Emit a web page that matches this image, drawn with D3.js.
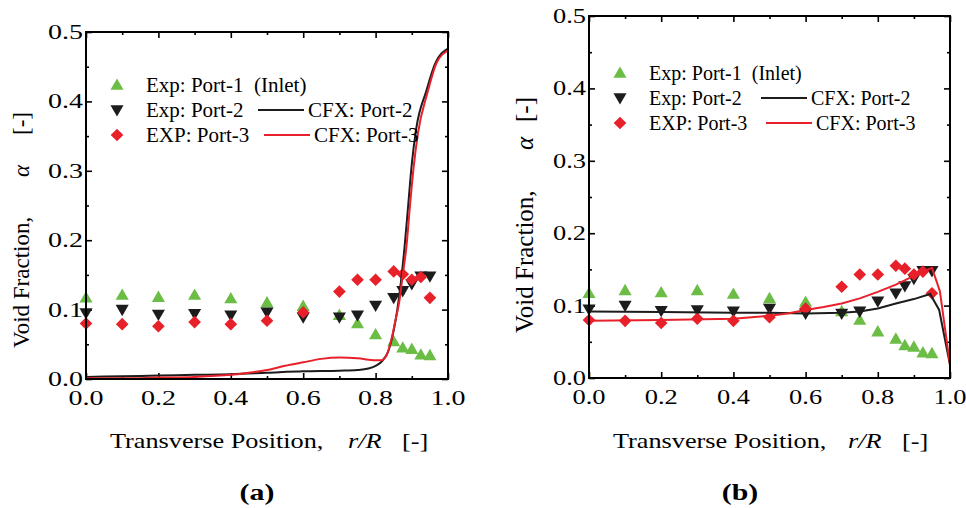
<!DOCTYPE html>
<html>
<head>
<meta charset="utf-8">
<script src="https://cdn.jsdelivr.net/npm/d3@7/dist/d3.min.js"></script>
<style>
  body { margin: 0; background: #fff; }
</style>
</head>
<body>
<svg id="chart" width="966" height="508"></svg>
<script>
// measured points (same for both panels)
const rExp = [0, 0.1, 0.2, 0.3, 0.4, 0.5, 0.6, 0.7, 0.75, 0.8, 0.85, 0.875, 0.9, 0.925, 0.95];
const expPort1 = [0.117, 0.121, 0.118, 0.121, 0.116, 0.110, 0.105, 0.092, 0.080, 0.064, 0.054, 0.045, 0.043, 0.035, 0.034];
const expPort2 = [0.095, 0.100, 0.093, 0.094, 0.092, 0.096, 0.089, 0.089, 0.092, 0.106, 0.117, 0.127, 0.137, 0.148, 0.148];
const expPort3 = [0.080, 0.079, 0.076, 0.082, 0.079, 0.084, 0.096, 0.126, 0.143, 0.143, 0.155, 0.151, 0.143, 0.147, 0.117];

// CFX results, case (a)
const cfxA2R = [0, 0.1, 0.2, 0.3, 0.4, 0.5, 0.6, 0.7, 0.75, 0.78, 0.8, 0.82, 0.835, 0.85, 0.86, 0.87, 0.88, 0.89, 0.9, 0.912, 0.94, 0.965, 1.0];
const cfxA2 = [0.003, 0.004, 0.005, 0.006, 0.007, 0.009, 0.011, 0.012, 0.013, 0.015, 0.019, 0.027, 0.040, 0.070, 0.100, 0.140, 0.190, 0.250, 0.310, 0.360, 0.415, 0.455, 0.476];
const cfxA3R = [0, 0.1, 0.2, 0.3, 0.4, 0.45, 0.5, 0.55, 0.6, 0.65, 0.7, 0.75, 0.8, 0.815, 0.83, 0.845, 0.855, 0.865, 0.875, 0.885, 0.895, 0.905, 0.917, 0.943, 0.968, 1.0];
const cfxA3 = [0.001, 0.001, 0.002, 0.003, 0.006, 0.009, 0.013, 0.019, 0.024, 0.029, 0.031, 0.030, 0.027, 0.027, 0.034, 0.060, 0.085, 0.110, 0.150, 0.190, 0.250, 0.305, 0.354, 0.412, 0.455, 0.473];

// CFX results, case (b)
const cfxB2R = [0, 0.2, 0.4, 0.5, 0.6, 0.7, 0.75, 0.8, 0.85, 0.9, 0.945, 0.97, 1.0];
const cfxB2 = [0.092, 0.091, 0.090, 0.090, 0.089, 0.090, 0.092, 0.096, 0.103, 0.109, 0.116, 0.094, 0.018];
const cfxB3R = [0, 0.2, 0.4, 0.5, 0.55, 0.6, 0.65, 0.7, 0.75, 0.8, 0.85, 0.9, 0.95, 0.972, 1.0];
const cfxB3 = [0.079, 0.080, 0.082, 0.086, 0.089, 0.094, 0.098, 0.103, 0.110, 0.119, 0.129, 0.141, 0.152, 0.120, 0.018];

const xTicks = [0, 0.2, 0.4, 0.6, 0.8, 1.0];
const xMinor = [0.1, 0.3, 0.5, 0.7, 0.9];
const yTicks = [0, 0.1, 0.2, 0.3, 0.4, 0.5];
const yMinor = [0.05, 0.15, 0.25, 0.35, 0.45];

const legendLabels = ["Exp: Port-1  (Inlet)", "Exp: Port-2", "EXP: Port-3"];
const lineLabels = ["CFX: Port-2", "CFX: Port-3"];
const yTitleParts = ["Void Fraction,", "α", "[-]"];
const xTitleParts = ["Transverse Position,", "r/R", "[-]"];

const GREEN = "#6cbd45", BLACK = "#1c1c1c", RED = "#e8202a";
const FONT = "'Liberation Serif', 'Times New Roman', Tinos, serif";

const svg = d3.select("#chart").attr("font-family", FONT);

const triUp = d3.symbol().type(d3.symbolTriangle).size(74)();
const diamond = d3.symbol().type(d3.symbolSquare).size(80)();

function marker(g, kind, x, y) {
  if (kind === 0) {
    g.append("path").attr("d", triUp).attr("transform", `translate(${x},${y + 1})`).attr("fill", GREEN);
  } else if (kind === 1) {
    g.append("path").attr("d", triUp).attr("transform", `translate(${x},${y - 1}) rotate(180)`).attr("fill", BLACK);
  } else {
    g.append("path").attr("d", diamond).attr("transform", `translate(${x},${y}) rotate(45)`).attr("fill", RED);
  }
}

function drawPanel(p) {
  const x = d3.scaleLinear().domain([0, 1]).range([p.left, p.right]);
  const y = d3.scaleLinear().domain([0, 0.5]).range([p.bottom, p.top]);
  const g = svg.append("g");

  // ticks, all pointing inward
  const axes = [
    [d3.axisBottom(x), `translate(0,${p.bottom})`, xTicks, xMinor],
    [d3.axisTop(x), `translate(0,${p.top})`, xTicks, xMinor],
    [d3.axisLeft(y), `translate(${p.left},0)`, yTicks, yMinor],
    [d3.axisRight(y), `translate(${p.right},0)`, yTicks, yMinor]
  ];
  axes.forEach(([ax, tr, major, minor]) => {
    g.append("g").attr("transform", tr)
      .call(ax.tickValues(major).tickSize(-6).tickFormat(""))
      .call(s => s.select(".domain").remove())
      .selectAll("line").attr("stroke", "#000").attr("stroke-width", 1.6);
    g.append("g").attr("transform", tr)
      .call(ax.tickValues(minor).tickSize(-3).tickFormat(""))
      .call(s => s.select(".domain").remove())
      .selectAll("line").attr("stroke", "#000").attr("stroke-width", 1.6);
  });

  // tick labels (the figure is a bit stretched sideways)
  g.selectAll(".xlab").data(xTicks).enter().append("text")
    .attr("transform", d => `translate(${x(d)},${p.bottom + 26}) scale(${p.sx},1)`)
    .attr("text-anchor", "middle").attr("font-size", p.tickFont)
    .text(d => d.toFixed(1));
  g.selectAll(".ylab").data(yTicks).enter().append("text")
    .attr("transform", d => `translate(${p.left - 3},${y(d) + 7}) scale(${p.sx},1)`)
    .attr("text-anchor", "end").attr("font-size", p.tickFont)
    .text(d => d.toFixed(1));

  // experimental markers
  const mk = g.append("g");
  [expPort1, expPort2, expPort3].forEach((vals, k) => {
    vals.forEach((v, i) => marker(mk, k, x(rExp[i]), y(v)));
  });

  // CFX lines
  const line = d3.line().x(d => x(d[0])).y(d => y(d[1])).curve(p.curve);
  g.append("path").datum(d3.zip(p.r2, p.v2)).attr("d", line)
    .attr("fill", "none").attr("stroke", BLACK).attr("stroke-width", 2);
  g.append("path").datum(d3.zip(p.r3, p.v3)).attr("d", line)
    .attr("fill", "none").attr("stroke", RED).attr("stroke-width", 2);

  // frame
  g.append("rect").attr("x", p.left).attr("y", p.top)
    .attr("width", p.right - p.left).attr("height", p.bottom - p.top)
    .attr("fill", "none").attr("stroke", "#000").attr("stroke-width", 2);

  // legend
  const lg = g.append("g");
  legendLabels.forEach((t, i) => {
    const cy = p.legY + i * 25;
    marker(lg, i, p.legX, cy);
    lg.append("text").attr("x", p.legX + 29).attr("y", cy + 7)
      .attr("font-size", p.legFont).attr("xml:space", "preserve").text(t);
  });
  lineLabels.forEach((t, i) => {
    const cy = p.legY + (i + 1) * 25;
    const x0 = p.lineX[i];
    lg.append("line").attr("x1", x0).attr("x2", x0 + 46).attr("y1", cy).attr("y2", cy)
      .attr("stroke", i === 0 ? BLACK : RED).attr("stroke-width", 2);
    lg.append("text").attr("x", x0 + 50).attr("y", cy + 7)
      .attr("font-size", p.legFont).text(t);
  });

  // y title, pieces spaced as in the figure
  yTitleParts.forEach((t, i) => {
    g.append("text")
      .attr("transform", `translate(${p.yTitleX},${p.yTitleAt[i]}) rotate(-90)`)
      .attr("font-size", p.yTitleFont)
      .attr("font-style", i === 1 ? "italic" : null)
      .text(t);
  });

  // x title
  xTitleParts.forEach((t, i) => {
    g.append("text")
      .attr("transform", `translate(${p.xTitleAt[i]},448) scale(1.25,1)`)
      .attr("font-size", 21)
      .attr("font-style", i === 1 ? "italic" : null)
      .text(t);
  });

  g.append("text")
    .attr("transform", `translate(${p.tagX},500) scale(1.3,1)`)
    .attr("text-anchor", "middle").attr("font-size", 23).attr("font-weight", "bold")
    .text(p.tag);
}

drawPanel({
  left: 86, right: 448, top: 32, bottom: 379,
  sx: 1.4, tickFont: 20, legFont: 21,
  r2: cfxA2R, v2: cfxA2, r3: cfxA3R, v3: cfxA3, curve: d3.curveMonotoneX,
  legX: 117, legY: 85, lineX: [258, 264],
  yTitleX: 29, yTitleFont: 23, yTitleAt: [348, 177, 135],
  xTitleAt: [110, 348, 402],
  tag: "(a)", tagX: 257
});

drawPanel({
  left: 589, right: 950, top: 16, bottom: 378,
  sx: 1.2, tickFont: 22, legFont: 20,
  r2: cfxB2R, v2: cfxB2, r3: cfxB3R, v3: cfxB3, curve: d3.curveLinear,
  legX: 620, legY: 73, lineX: [761, 766],
  yTitleX: 533, yTitleFont: 25, yTitleAt: [333, 150, 122],
  xTitleAt: [613, 848, 902],
  tag: "(b)", tagX: 740
});
</script>
</body>
</html>
